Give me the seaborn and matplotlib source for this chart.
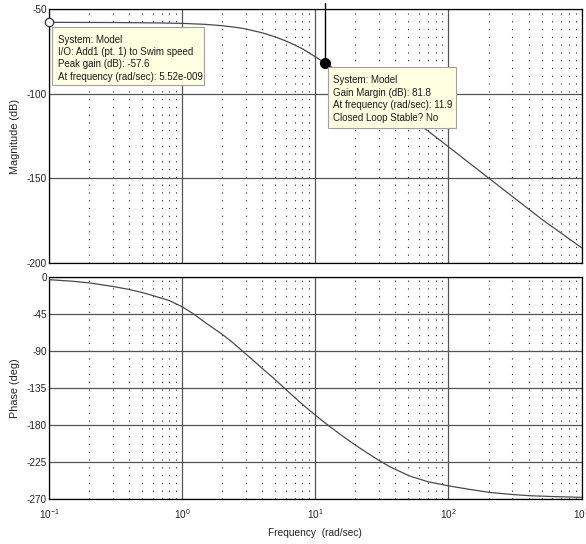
import matplotlib
matplotlib.use("Agg")
import matplotlib.pyplot as plt
import matplotlib.patches as mpatches
import pandas as pd
import seaborn as sns
from matplotlib.ticker import LogLocator, FixedLocator, NullFormatter, LogFormatterSciNotation

# Bode response of the swim-speed model
freq_mag = [0.1, 0.3, 0.6, 1.0, 1.5, 2.0, 2.5, 3.0, 4.0, 5.0, 6.0, 7.0, 8.0, 10.0, 11.9,
            16, 20, 30, 40, 68.6, 100, 200, 500, 1000]
mag_db = [-57.6, -57.7, -57.9, -58.2, -58.8, -59.6, -60.5, -61.5, -63.8, -66.2, -68.6, -71.0,
          -73.2, -78.0, -81.8, -88.0, -92.8, -102.0, -108.7, -121.3, -131.2, -149.7, -174.0,
          -191.0]

freq_phase = [0.1, 0.15, 0.2, 0.3, 0.4, 0.5, 0.6, 0.8, 1.0, 1.21, 1.5, 2.0, 2.4, 2.8, 3.3,
              4.0, 4.8, 5.7, 6.5, 7.5, 8.7, 10, 11.5, 13, 16, 20, 24, 29, 36, 51, 70, 100,
              140, 204, 300, 407, 600, 1000]
phase_deg = [-3.6, -5.5, -7.5, -11.8, -15.5, -19.2, -22.8, -29.0, -36.5, -45, -56, -70, -80,
             -89.5, -99.5, -111.5, -122.5, -133.5, -142, -151, -160, -168, -176, -182.5,
             -193.5, -204.5, -213, -221.5, -230.5, -242, -249, -254, -258, -262, -264.5,
             -266, -267, -268]

# Data-tip readouts
peak_gain_db = -57.6
peak_tip_freq = 0.1
gm_db = 81.8
gm_freq = 11.9

mag_ticks = [-50, -100, -150, -200]
phase_ticks = [0, -45, -90, -135, -180, -225, -270]

sns.set_style("white")
plt.rcParams['font.family'] = ['Liberation Sans', 'DejaVu Sans']
plt.rcParams['mathtext.fontset'] = 'custom'
plt.rcParams['mathtext.rm'] = 'Liberation Sans'
plt.rcParams['axes.unicode_minus'] = False

W, H = 586, 544
fig = plt.figure(figsize=(W / 100, H / 100), dpi=100)
fig.patch.set_facecolor('white')


def fx(px):
    return px / W


def fy(py):
    return 1 - py / H


left, right = 49, 581.6
ax_m = fig.add_axes([fx(left), fy(263), fx(right - left), (263 - 9.5) / H])
ax_p = fig.add_axes([fx(left), fy(499), fx(right - left), (499 - 276.7) / H])

line_color = '#4a4a4a'
mag_df = pd.DataFrame({'freq': freq_mag, 'mag': mag_db})
phase_df = pd.DataFrame({'freq': freq_phase, 'phase': phase_deg})
sns.lineplot(data=mag_df, x='freq', y='mag', ax=ax_m, color=line_color, lw=0.9,
             sort=False, estimator=None, zorder=3)
sns.lineplot(data=phase_df, x='freq', y='phase', ax=ax_p, color=line_color, lw=0.9,
             sort=False, estimator=None, zorder=3)

for ax, ticks, lim in [(ax_m, mag_ticks, (-200, -50)), (ax_p, phase_ticks, (-270, 0))]:
    ax.set_xscale('log')
    ax.set_xlim(0.1, 1000)
    ax.set_ylim(*lim)
    ax.yaxis.set_major_locator(FixedLocator(ticks))
    ax.xaxis.set_major_locator(LogLocator(base=10, numticks=10))
    ax.xaxis.set_minor_locator(LogLocator(base=10, subs=range(2, 10), numticks=20))
    ax.xaxis.set_minor_formatter(NullFormatter())
    ax.grid(which='major', axis='both', color='#555555', lw=0.9, ls='-', zorder=1)
    ax.grid(which='minor', axis='x', color='#222222', lw=0.8, ls=(0, (1, 6)), zorder=1)
    ax.set_axisbelow(True)
    for sp in ax.spines.values():
        sp.set_color('black')
        sp.set_linewidth(0.9)
    ax.tick_params(which='both', length=0, labelsize=7.2, colors='#222222', pad=1.5)
    ax.tick_params(axis='x', pad=6)

ax_m.set_xlabel('')
ax_m.tick_params(axis='x', labelbottom=False)
ax_p.xaxis.set_major_formatter(LogFormatterSciNotation())

ax_m.set_ylabel('Magnitude (dB)', fontsize=7.8, color='#222222')
ax_p.set_ylabel('Phase (deg)', fontsize=7.8, color='#222222')
ax_m.yaxis.set_label_coords(-0.055, 0.5)
ax_p.yaxis.set_label_coords(-0.055, 0.5)
ax_p.set_xlabel('Frequency  (rad/sec)', fontsize=7.3, color='#222222')
ax_p.xaxis.set_label_coords(0.5, -0.132)

# Data tip: peak gain
ax_m.plot([peak_tip_freq], [peak_gain_db], marker='o', ms=6, mfc='white', mec='#333333',
          mew=0.9, clip_on=False, zorder=6)

# Data tip: gain margin
ax_m.plot([gm_freq, gm_freq], [-46, -gm_db], color='black', lw=1.0, clip_on=False, zorder=4)
ax_m.plot([gm_freq], [-gm_db], marker='o', ms=7, color='black', clip_on=False, zorder=6)


def tip_box(x0, y0, x1, y1, text_x, baselines, lines):
    rect = mpatches.Rectangle((fx(x0), fy(y1)), fx(x1 - x0), (y1 - y0) / H,
                              transform=fig.transFigure, facecolor='#ffffe1',
                              edgecolor='#a0a0a0', lw=0.8, zorder=5)
    fig.add_artist(rect)
    for b, s in zip(baselines, lines):
        fig.text(fx(text_x), fy(b), s, fontsize=7.0, color='#1a1a1a', va='baseline',
                 ha='left', zorder=6)


tip_box(52, 27, 204, 85, 58.3, [42.7, 55.0, 67.3, 79.6],
        ['System: Model',
         'I/O: Add1 (pt. 1) to Swim speed',
         f'Peak gain (dB): {peak_gain_db}',
         'At frequency (rad/sec): 5.52e-009'])

tip_box(328, 67, 456, 128, 333.3, [83.3, 95.8, 108.3, 120.8],
        ['System: Model',
         f'Gain Margin (dB): {gm_db}',
         f'At frequency (rad/sec): {gm_freq}',
         'Closed Loop Stable? No'])

fig.savefig('out.png', dpi=100)
